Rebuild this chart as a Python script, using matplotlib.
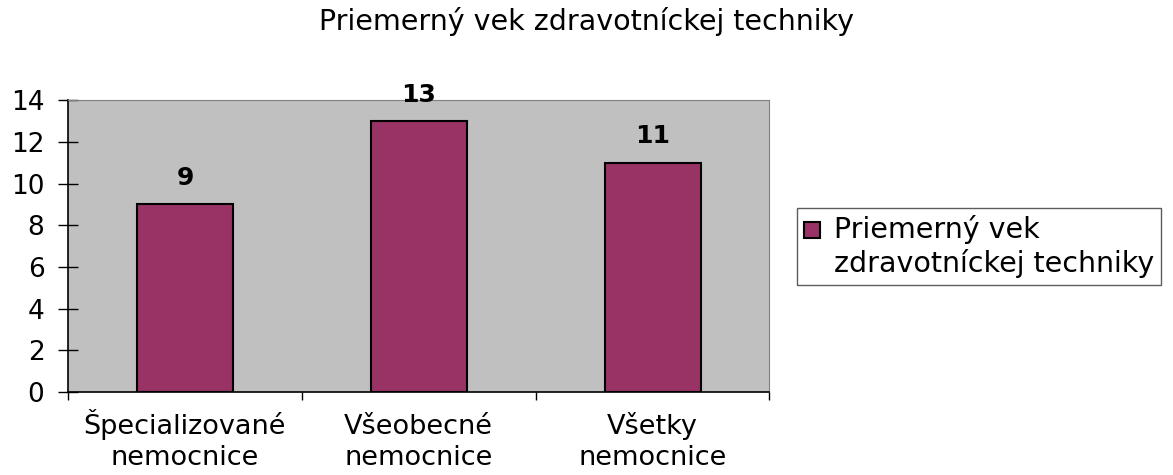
import matplotlib.pyplot as plt
from matplotlib.patches import Rectangle
from matplotlib.legend_handler import HandlerPatch
from matplotlib.container import BarContainer

plt.rcParams['font.family'] = ['DejaVu Sans']

# údaje z grafu
categories = ['Špecializované\nnemocnice', 'Všeobecné\nnemocnice', 'Všetky\nnemocnice']
values = [9, 13, 11]
series_name = 'Priemerný vek\nzdravotníckej techniky'
title = 'Priemerný vek zdravotníckej techniky'
yticks = [0, 2, 4, 6, 8, 10, 12, 14]

fig = plt.figure(figsize=(11.73, 4.75), dpi=100)
ax = fig.add_axes([0.058, 0.175, 0.598, 0.614])
ax.set_facecolor('#C0C0C0')

x = range(len(categories))
bars = ax.bar(x, values, width=0.41, color='#993366', edgecolor='black', linewidth=1.5,
              label=series_name, zorder=3)

for b, v in zip(bars, values):
    ax.annotate(str(v), (b.get_x() + b.get_width() / 2, v), xytext=(0, 14),
                textcoords='offset points', ha='center', va='baseline',
                fontsize=18, fontweight='bold')

ax.set_xlim(-0.5, len(categories) - 0.5)
ax.set_ylim(0, 14)
ax.set_yticks(yticks)
ax.tick_params(axis='y', direction='inout', length=14, width=1, labelsize=19, pad=10)

# popisky kategórií (účiar posledného riadku), čiarky na hraniciach
ax.set_xticks(list(x))
ax.set_xticklabels([''] * len(categories))
ax.tick_params(axis='x', length=0)
for i, lab in zip(x, categories):
    ax.annotate(lab, (i, 0), xycoords=('data', 'axes fraction'), xytext=(0, -52.5),
                textcoords='offset points', ha='center', va='baseline',
                fontsize=19.5, linespacing=1.22, multialignment='center')
ax.set_xticks([i - 0.5 for i in range(len(categories) + 1)], minor=True)
ax.tick_params(axis='x', which='minor', direction='out', length=6, width=1)

for s in ['top', 'right']:
    ax.spines[s].set_color('#808080')
for s in ['left', 'bottom']:
    ax.spines[s].set_color('black')
    ax.spines[s].set_linewidth(1.2)

fig.text(0.5, 0.954, title, ha='center', va='center', fontsize=20.5)


# štvorček v legende pri prvom riadku
def top_square(legend, orig_handle, xdescent, ydescent, width, height, fontsize):
    return Rectangle((-xdescent, -ydescent + 0.6 * fontsize), width, height)


def copy_style(legend_handle, orig_handle):
    legend_handle.update_from(orig_handle.patches[0])


leg = fig.legend(loc='upper left', bbox_to_anchor=(0.6795, 0.562), fontsize=20.5,
                 frameon=True, fancybox=False, edgecolor='#333333', handlelength=0.55,
                 handleheight=0.5, handletextpad=0.5, borderpad=0.25, borderaxespad=0,
                 labelspacing=0.2,
                 handler_map={BarContainer: HandlerPatch(patch_func=top_square,
                                                         update_func=copy_style)})
leg.get_frame().set_linewidth(1)

fig.savefig('out.png', dpi=100)
